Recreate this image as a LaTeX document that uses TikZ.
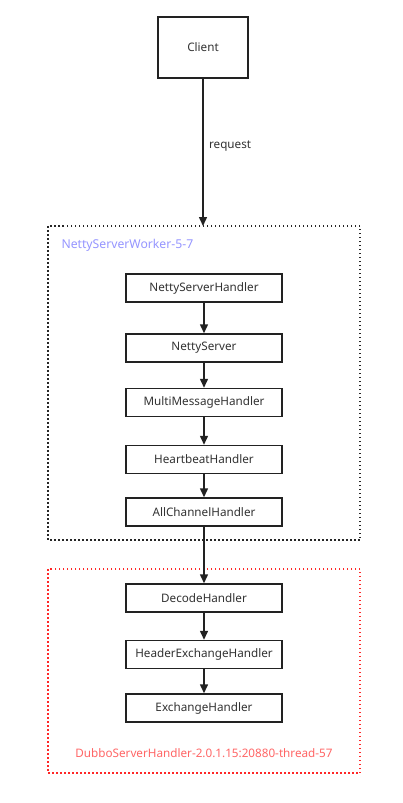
\documentclass[tikz,border=0pt]{standalone}
\usepackage{fontspec}
\setmainfont{Noto Sans}
\usetikzlibrary{arrows.meta}
\definecolor{boxline}{RGB}{34,34,34}
\definecolor{lav}{RGB}{150,150,255}
\definecolor{redtxt}{RGB}{255,102,102}
\definecolor{reddot}{RGB}{255,40,40}
\tikzset{
  lbl/.style={font=\fontsize{11.7}{14}\selectfont},
  hbox/.style={lbl, draw=boxline, line width=1.5pt, minimum width=156pt, minimum height=28pt, inner sep=0pt, text=black!80},
  flow/.style={draw=boxline, line width=1.5pt, -{Triangle[length=9pt,width=8pt]}},
  grp/.style={line width=1.5pt, dash pattern=on 1.5pt off 2.5pt},
}
\begin{document}
\begin{tikzpicture}[x=1pt,y=1pt]
\useasboundingbox (0,0) rectangle (402,-803);
\fill[white] (0,0) rectangle (402,-803);
\node[hbox, minimum width=90pt, minimum height=61pt] (client) at (203,-47.5) {Client};
\draw[grp, draw=black!85] (48,-226) rectangle (360,-540);
\node[lbl, anchor=west, text=lav, font=\fontsize{12.2}{14}\selectfont] (w) at (58,-245) {NettyServerWorker-5-7};
\coordinate (top) at (203,-226);
\node[hbox] (a) at (204,-288) {NettyServerHandler};
\node[hbox] (b) at (204,-348) {NettyServer};
\node[hbox] (c) at (204,-402.5) {MultiMessageHandler};
\node[hbox] (d) at (204,-459.5) {HeartbeatHandler};
\node[hbox] (e) at (204,-512) {AllChannelHandler};
\draw[grp, draw=reddot] (48,-569) rectangle (360,-773);
\node[hbox] (f) at (204,-598) {DecodeHandler};
\node[hbox] (g) at (204,-654.5) {HeaderExchangeHandler};
\node[hbox] (h) at (204,-708) {ExchangeHandler};
\node[lbl, text=redtxt] (r) at (204,-753) {DubboServerHandler-2.0.1.15:20880-thread-57};
\draw[flow] (client) -- node[lbl, right, xshift=2pt, yshift=6pt, text=black!80] {request} (top);
\draw[flow] (a) -- (b);
\draw[flow] (b) -- (c);
\draw[flow] (c) -- (d);
\draw[flow] (d) -- (e);
\draw[flow] (e) -- (f);
\draw[flow] (f) -- (g);
\draw[flow] (g) -- (h);
\end{tikzpicture}
\end{document}
